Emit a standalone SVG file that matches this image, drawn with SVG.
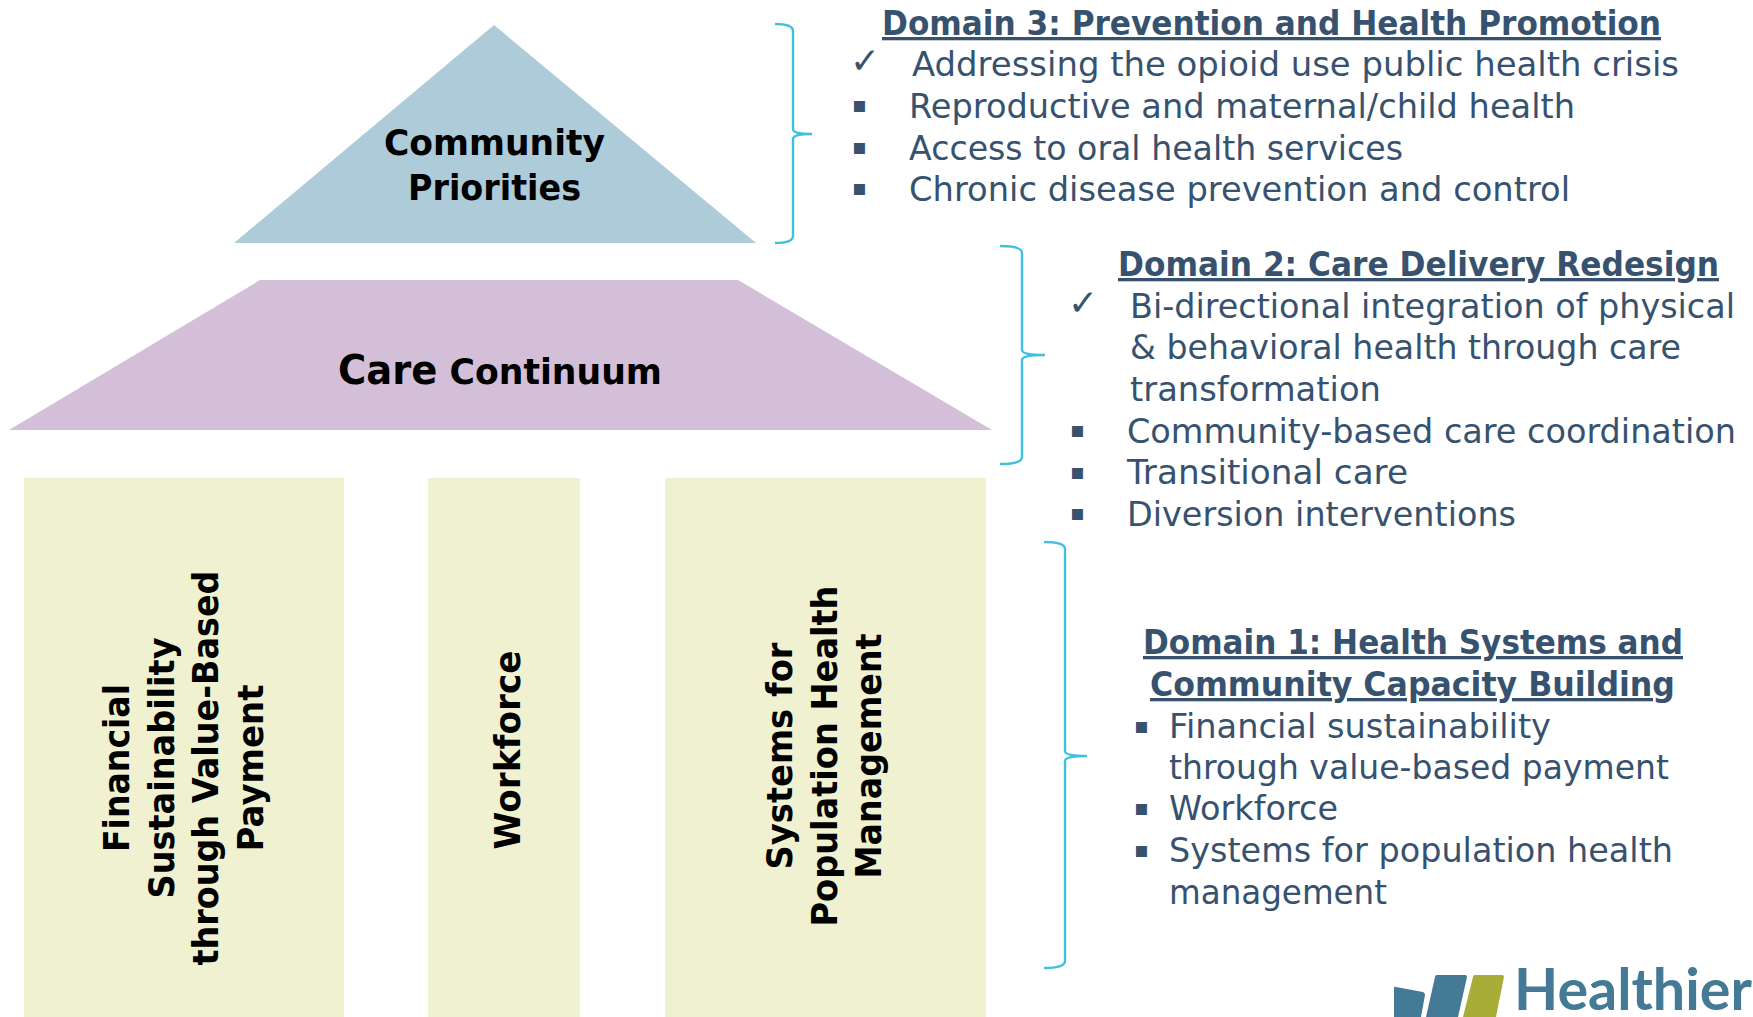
<svg xmlns="http://www.w3.org/2000/svg" width="1753" height="1017" viewBox="0 0 1753 1017">
<style>
text{font-family:"DejaVu Sans","Liberation Sans",sans-serif}
.b{fill:#37526f;font-size:33px}
.h{fill:#37526f;font-size:33px;font-weight:700;text-decoration:underline}
.m{fill:#37526f;font-size:22px}
.c{fill:#37526f;font-size:36px}
.k{fill:#000;font-size:36px;font-weight:700}
.brace{fill:none;stroke:#3fc0dd;stroke-width:2.4}
</style>
<rect width="1753" height="1017" fill="#fff"/>
<g id="community-priorities">
<polygon points="494,25 756,243 234,243" fill="#aecbda"/>
<text class="k" x="384" y="155" textLength="221" lengthAdjust="spacingAndGlyphs">Community</text>
<text class="k" x="408" y="200" textLength="173" lengthAdjust="spacingAndGlyphs">Priorities</text>
</g>
<g id="care-continuum">
<polygon points="260,280 738,280 992,430 9,430" fill="#d4bfd9"/>
<text class="k" x="338" y="384" textLength="324" lengthAdjust="spacingAndGlyphs"><tspan font-size="40">Care</tspan> Continuum</text>
</g>
<g id="pillar-financial">
<rect x="24" y="478" width="320" height="539" fill="#f0f1d1"/>
<g transform="translate(128.5,768) rotate(-90)" text-anchor="middle">
<text class="k" x="0" y="0" textLength="168" lengthAdjust="spacingAndGlyphs">Financial</text>
<text class="k" x="0" y="45" textLength="261" lengthAdjust="spacingAndGlyphs">Sustainability</text>
<text class="k" x="0" y="89" textLength="395" lengthAdjust="spacingAndGlyphs">through Value-Based</text>
<text class="k" x="0" y="134" textLength="167" lengthAdjust="spacingAndGlyphs">Payment</text>
</g>
</g>
<g id="pillar-workforce">
<rect x="428" y="478" width="152" height="539" fill="#f0f1d1"/>
<text class="k" transform="translate(520,750) rotate(-90)" text-anchor="middle" textLength="199" lengthAdjust="spacingAndGlyphs">Workforce</text>
</g>
<g id="pillar-systems">
<rect x="665" y="478" width="321" height="539" fill="#f0f1d1"/>
<g transform="translate(791.5,756) rotate(-90)" text-anchor="middle">
<text class="k" x="0" y="0" textLength="227" lengthAdjust="spacingAndGlyphs">Systems for</text>
<text class="k" x="0" y="45" textLength="341" lengthAdjust="spacingAndGlyphs">Population Health</text>
<text class="k" x="0" y="89" textLength="245" lengthAdjust="spacingAndGlyphs">Management</text>
</g>
</g>
<g id="connectors">
<path class="brace" d="M775,24 Q793,24 793,31 V129 Q793,134 812,134 Q793,134 793,139 V236 Q793,243 775,243"/>
<path class="brace" d="M1000,246 Q1022,246 1022,253 V350 Q1022,355 1045,355 Q1022,355 1022,360 V457 Q1022,464 1000,464"/>
<path class="brace" d="M1044,542 Q1065,542 1065,549 V751 Q1065,756 1087,756 Q1065,756 1065,761 V961 Q1065,968 1044,968"/>
</g>
<g id="domain-3">
<text class="h" x="882" y="35" textLength="779" lengthAdjust="spacingAndGlyphs">Domain 3: Prevention and Health Promotion</text>
<text class="c" x="850" y="73">✓</text><text class="b" x="912" y="76" textLength="767" lengthAdjust="spacingAndGlyphs">Addressing the opioid use public health crisis</text>
<text class="m" x="852" y="112">▪</text><text class="b" x="909" y="118" textLength="666" lengthAdjust="spacingAndGlyphs">Reproductive and maternal/child health</text>
<text class="m" x="852" y="153.500">▪</text><text class="b" x="909" y="160" textLength="494" lengthAdjust="spacingAndGlyphs">Access to oral health services</text>
<text class="m" x="852" y="195">▪</text><text class="b" x="909" y="201" textLength="661" lengthAdjust="spacingAndGlyphs">Chronic disease prevention and control</text>
</g>
<g id="domain-2">
<text class="h" x="1118" y="276" textLength="601" lengthAdjust="spacingAndGlyphs">Domain 2: Care Delivery Redesign</text>
<text class="c" x="1068" y="315">✓</text><text class="b" x="1130" y="317.500" textLength="605" lengthAdjust="spacingAndGlyphs">Bi-directional integration of physical</text>
<text class="b" x="1130" y="358.500" textLength="551" lengthAdjust="spacingAndGlyphs">&amp; behavioral health through care</text>
<text class="b" x="1130" y="400.500" textLength="251" lengthAdjust="spacingAndGlyphs">transformation</text>
<text class="m" x="1070" y="436.500">▪</text><text class="b" x="1127" y="442.500" textLength="609" lengthAdjust="spacingAndGlyphs">Community-based care coordination</text>
<text class="m" x="1070" y="478.500">▪</text><text class="b" x="1127" y="484" textLength="281" lengthAdjust="spacingAndGlyphs">Transitional care</text>
<text class="m" x="1070" y="519.500">▪</text><text class="b" x="1127" y="525.500" textLength="389" lengthAdjust="spacingAndGlyphs">Diversion interventions</text>
</g>
<g id="domain-1">
<text class="h" x="1143" y="654" textLength="540" lengthAdjust="spacingAndGlyphs">Domain 1: Health Systems and</text>
<text class="h" x="1150" y="696" textLength="525" lengthAdjust="spacingAndGlyphs">Community Capacity Building</text>
<text class="m" x="1134" y="732.500">▪</text><text class="b" x="1169" y="738" textLength="382" lengthAdjust="spacingAndGlyphs">Financial sustainability</text>
<text class="b" x="1169" y="779" textLength="500" lengthAdjust="spacingAndGlyphs">through value-based payment</text>
<text class="m" x="1134" y="814.500">▪</text><text class="b" x="1169" y="820" textLength="169" lengthAdjust="spacingAndGlyphs">Workforce</text>
<text class="m" x="1134" y="856.500">▪</text><text class="b" x="1169" y="862" textLength="504" lengthAdjust="spacingAndGlyphs">Systems for population health</text>
<text class="b" x="1169" y="904" textLength="218" lengthAdjust="spacingAndGlyphs">management</text>
</g>
<g id="logo">
<path d="M1394,988 Q1394,986 1396,987 L1423,992 Q1425,993 1425,995 L1421,1017 H1394Z" fill="#457a96"/>
<path d="M1435,977 Q1435,975 1437,975 H1465 Q1467,975 1467,977 L1458,1017 H1426Z" fill="#457a96"/>
<path d="M1473,977 Q1473,975 1475,975 H1502 Q1504,975 1504,977 L1496,1017 H1463Z" fill="#a8ad37"/>
<text x="1514" y="1010" font-size="57" font-weight="700" fill="#457a96" style="font-family:Lato,'Noto Sans',sans-serif" textLength="238" lengthAdjust="spacingAndGlyphs">Healthier</text>
</g>
</svg>
